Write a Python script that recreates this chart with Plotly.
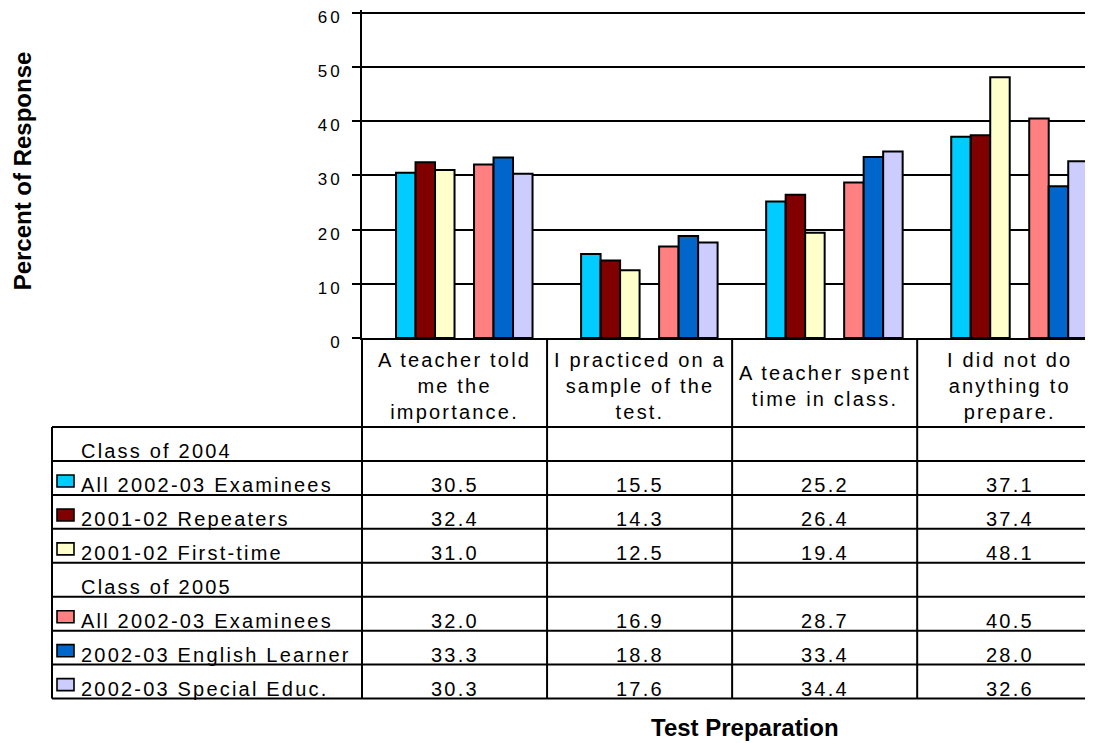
import plotly.graph_objects as go

# categories (test preparation) and survey values, percent of response
categories = [
    "A teacher told<br>me the<br>importance.",
    "I practiced on a<br>sample of the<br>test.",
    "A teacher spent<br>time in class.",
    "I did not do<br>anything to<br>prepare.",
]
group_2004 = "Class of 2004"
group_2005 = "Class of 2005"
names_2004 = ["All 2002-03 Examinees", "2001-02 Repeaters", "2001-02 First-time"]
names_2005 = ["All 2002-03 Examinees", "2002-03 English Learner", "2002-03 Special Educ."]

all_2004 = [30.5, 15.5, 25.2, 37.1]
repeaters_2004 = [32.4, 14.3, 26.4, 37.4]
first_time_2004 = [31.0, 12.5, 19.4, 48.1]
all_2005 = [32.0, 16.9, 28.7, 40.5]
english_learner_2005 = [33.3, 18.8, 33.4, 28.0]
special_educ_2005 = [30.3, 17.6, 34.4, 32.6]

y_ticks = [0, 10, 20, 30, 40, 50, 60]

colors_2004 = ["#00CCFF", "#800000", "#FFFFCC"]
colors_2005 = ["#FF8080", "#0066CC", "#CCCCFF"]

FONT = "Liberation Sans, Arial, sans-serif"


def wide(text, spacing=2.2):
    # the original Excel text is drawn wide, so spread the letters a little
    return "<br>".join(
        f'<span style="letter-spacing:{spacing}px">{line}</span>' for line in text.split("<br>")
    )


# page pixels (the html body adds an 8px margin round the figure)
OFF = 8
W, H = 1093 - OFF, 743 - OFF
L, T, B = 362, 13, 338          # plot area in page pixels, T is where 60 sits
PW, PH = 1093 - L, B - T
X_RANGE = [-0.5, 3.45]
Y_MAX = 60
Y_RANGE = [0, Y_MAX + 0.5]     # a little headroom so the 60 tick and grid line are kept
TOP = B - PH * Y_RANGE[1] / Y_MAX   # page pixel of the plot-area top


def px_x(p):
    return (p - L) / PW


def px_y(p):
    return (B - p) / (B - TOP)


def cat_x(v):
    return (v - X_RANGE[0]) / (X_RANGE[1] - X_RANGE[0])


# table rows: label, values, colour (None for group headings)
rows = [(group_2004, None, None)]
rows += list(zip(names_2004, [all_2004, repeaters_2004, first_time_2004], colors_2004))
rows += [(group_2005, None, None)]
rows += list(zip(names_2005, [all_2005, english_learner_2005, special_educ_2005], colors_2005))

ROW_TOP, ROW_H = 427, 33.9
TABLE_LEFT, TABLE_BOTTOM = 52, ROW_TOP + ROW_H * len(rows)

fig = go.Figure()
for label, values, color in rows:
    if values is None:
        # empty series keeps the blank slot in front of each class group
        fig.add_trace(go.Bar(x=categories, y=[None] * len(categories), name=label, hoverinfo="skip"))
    else:
        fig.add_trace(
            go.Bar(
                x=categories,
                y=values,
                name=label,
                marker=dict(color=color, line=dict(color="black", width=2)),
            )
        )

shapes = []
line = dict(color="black", width=2)
# vertical table rules
for b in [-0.5, 0.5, 1.5, 2.5]:
    shapes.append(dict(type="line", xref="paper", yref="paper", x0=cat_x(b), x1=cat_x(b),
                       y0=px_y(B), y1=px_y(TABLE_BOTTOM), line=line))
shapes.append(dict(type="line", xref="paper", yref="paper", x0=px_x(TABLE_LEFT), x1=px_x(TABLE_LEFT),
                   y0=px_y(ROW_TOP), y1=px_y(TABLE_BOTTOM), line=line))
# horizontal table rules
for i in range(len(rows) + 1):
    yy = px_y(ROW_TOP + ROW_H * i)
    shapes.append(dict(type="line", xref="paper", yref="paper", x0=px_x(TABLE_LEFT), x1=1,
                       y0=yy, y1=yy, line=line))

annotations = []
txt = dict(family=FONT, size=20, color="black")
for i, cat in enumerate(categories):
    annotations.append(dict(x=i, y=px_y(386), xref="x", yref="paper", text=wide(cat),
                            showarrow=False, font=txt, xanchor="center", yanchor="middle"))

for r, (label, values, color) in enumerate(rows):
    top = ROW_TOP + ROW_H * r
    bottom = top + ROW_H
    annotations.append(dict(x=px_x(79), y=px_y(bottom + 3), xref="paper", yref="paper",
                            text=wide(label), showarrow=False, font=txt,
                            xanchor="left", yanchor="bottom"))
    if values is None:
        continue
    shapes.append(dict(type="rect", xref="paper", yref="paper", x0=px_x(57), x1=px_x(74),
                       y0=px_y(top + 14), y1=px_y(top + 26), fillcolor=color,
                       line=dict(color="black", width=1.6)))
    for i, v in enumerate(values):
        annotations.append(dict(x=i, y=px_y(bottom + 3), xref="x", yref="paper",
                                text=wide(f"{v:.1f}"), showarrow=False, font=txt,
                                xanchor="center", yanchor="bottom"))

title_font = dict(family=FONT, size=24, color="black")
annotations.append(dict(x=px_x(22.5), y=px_y(171), xref="paper", yref="paper",
                        text="<b>Percent of Response</b>", textangle=-90, showarrow=False,
                        font=title_font, xanchor="center", yanchor="middle"))
annotations.append(dict(x=px_x(745), y=px_y(727), xref="paper", yref="paper",
                        text="<b>Test Preparation</b>", showarrow=False,
                        font=title_font, xanchor="center", yanchor="middle"))

fig.update_layout(
    width=W,
    height=H,
    margin=dict(l=L - OFF, r=0, t=TOP - OFF, b=H - (B - OFF), autoexpand=False),
    paper_bgcolor="white",
    plot_bgcolor="white",
    showlegend=False,
    barmode="group",
    bargap=0.157,
    bargroupgap=0,
    font=txt,
    shapes=shapes,
    annotations=annotations,
    xaxis=dict(range=X_RANGE, showticklabels=False, ticks="", showgrid=False, automargin=False,
               showline=True, linecolor="black", linewidth=2, zeroline=False),
    yaxis=dict(range=Y_RANGE, tickvals=y_ticks, ticktext=[wide(str(t), 3) for t in y_ticks],
               tickfont=dict(family=FONT, size=17, color="black"), ticklabeloverflow="allow",
               ticklabelshift=4, automargin=False, ticks="outside", ticklen=8, tickwidth=2,
               tickcolor="black", ticklabelstandoff=6, showgrid=True, gridcolor="black",
               gridwidth=1.5, showline=True, linecolor="black", linewidth=2, zeroline=False),
)

fig.write_html("out.html")
